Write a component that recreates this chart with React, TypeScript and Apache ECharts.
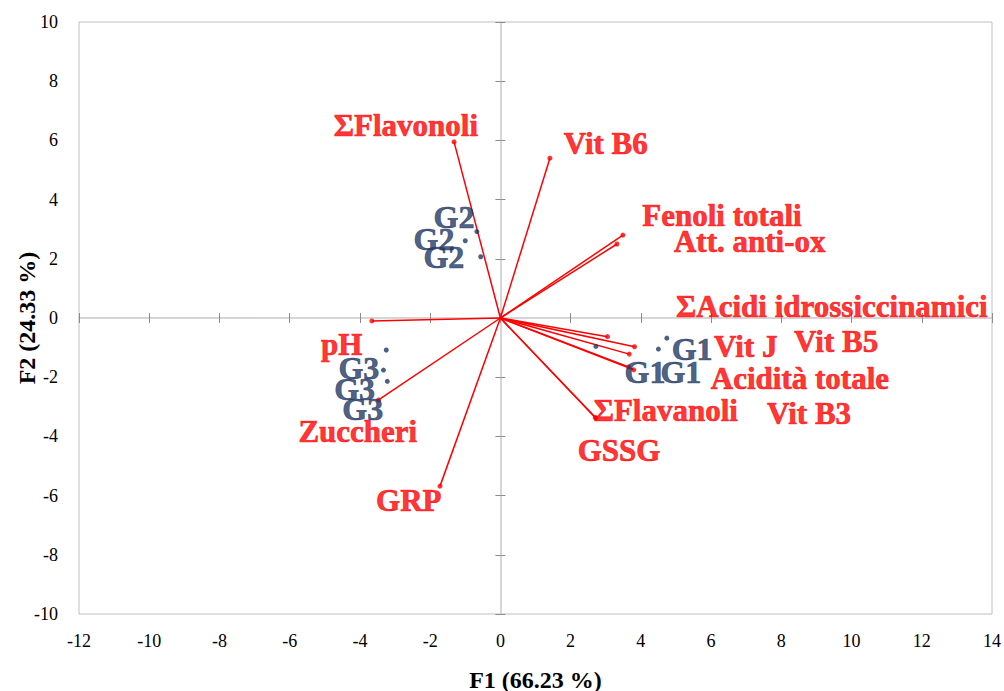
import React, { useEffect, useRef } from "react";
import * as echarts from "echarts";

// Variables (red vectors)
const varNames = [
  "ΣFlavonoli",
  "Vit B6",
  "Fenoli totali",
  "Att. anti-ox",
  "ΣAcidi idrossiccinamici",
  "Vit B5",
  "Vit J",
  "Acidità totale",
  "Vit B3",
  "ΣFlavanoli",
  "GSSG",
  "GRP",
  "Zuccheri",
  "pH",
];
const varX = [-1.32, 1.41, 3.49, 3.32, 3.05, 3.82, 3.67, 3.8, 3.65, 2.72, 2.7, -1.72, -3.47, -3.66];
const varY = [5.95, 5.4, 2.8, 2.5, -0.63, -0.97, -1.22, -1.75, -1.65, -3.38, -3.36, -5.68, -2.77, -0.1];
const varLabelX = [-2.69, 3.0, 6.31, 7.1, 9.44, 9.56, 6.99, 8.53, 8.79, 4.71, 3.38, -2.61, -4.06, -4.52];
const varLabelY = [6.5, 5.9, 3.45, 2.6, 0.4, -0.81, -0.95, -2.06, -3.24, -3.14, -4.49, -6.18, -3.82, -0.88];

// Observations (navy points)
const obsNames = ["G1", "G1", "G1", "G2", "G2", "G2", "G3", "G3", "G3"];
const obsX = [4.74, 4.5, 2.72, -0.67, -1.0, -0.56, -3.25, -3.33, -3.22];
const obsY = [-0.68, -1.05, -0.96, 2.92, 2.61, 2.07, -1.08, -1.76, -2.14];
const obsLabelX = [5.46, 5.14, 4.12, -1.32, -1.89, -1.61, -4.03, -4.15, -3.92];
const obsLabelY = [-1.05, -1.82, -1.82, 3.41, 2.67, 2.06, -1.69, -2.4, -3.07];

const xMin = -12, xMax = 14, xStep = 2;
const yMin = -10, yMax = 10, yStep = 2;

const RED = "#ff0000";
const NAVY = "#1f3864";
const SERIF = "Liberation Serif";

export default function App() {
  const ref = useRef<HTMLDivElement>(null);
  useEffect(() => {
    if (!ref.current) return;
    const chart = echarts.init(ref.current, undefined, { renderer: "svg" });

    const vectorSeries = varNames.map((n, i) => ({
      type: "line",
      name: n,
      xAxisIndex: 0,
      yAxisIndex: 0,
      data: [
        [0, 0],
        [varX[i], varY[i]],
      ],
      symbol: "none",
      silent: true,
      lineStyle: { color: RED, width: 1.5 },
      z: 3,
    }));

    const baseAxisX = { type: "value", min: xMin, max: xMax, interval: xStep };
    const baseAxisY = { type: "value", min: yMin, max: yMax, interval: yStep };
    const zeroLine = { lineStyle: { color: "#c8c8c8", width: 1.5 } };
    const tickStyle = { lineStyle: { color: "#8c8c8c", width: 1 } };

    const option = {
      animation: false,
      backgroundColor: "#ffffff",
      textStyle: { fontFamily: SERIF },
      grid: {
        left: 79,
        right: 12,
        top: 22,
        bottom: 77,
        show: true,
        borderColor: "#bfbfbf",
        borderWidth: 1,
        containLabel: false,
        outerBoundsMode: "none",
      },
      xAxis: [
        {
          ...baseAxisX,
          position: "bottom",
          axisLine: { show: false, onZero: false },
          axisTick: { show: false },
          splitLine: { show: false },
          axisLabel: { fontFamily: SERIF, fontSize: 18, color: "#000", margin: 18 },
          name: "F1 (66.23 %)",
          nameLocation: "middle",
          nameGap: 54,
          nameMoveOverlap: false,
          nameTextStyle: { fontFamily: SERIF, fontSize: 24, fontWeight: "bold", color: "#000" },
        },
        {
          ...baseAxisX,
          axisLine: { show: true, onZero: true, onZeroAxisIndex: 0, ...zeroLine },
          axisTick: { show: true, inside: true, length: 5, ...tickStyle },
          axisLabel: { show: false },
          splitLine: { show: false },
        },
        {
          ...baseAxisX,
          axisLine: { show: false, onZero: true, onZeroAxisIndex: 0 },
          axisTick: { show: true, inside: false, length: 5, ...tickStyle },
          axisLabel: { show: false },
          splitLine: { show: false },
        },
      ],
      yAxis: [
        {
          ...baseAxisY,
          position: "left",
          axisLine: { show: false, onZero: false },
          axisTick: { show: false },
          splitLine: { show: false },
          axisLabel: { fontFamily: SERIF, fontSize: 18, color: "#000", margin: 21 },
          name: "F2 (24.33 %)",
          nameLocation: "middle",
          nameGap: 40,
          nameRotate: 90,
          nameMoveOverlap: false,
          nameTextStyle: { fontFamily: SERIF, fontSize: 24, fontWeight: "bold", color: "#000" },
        },
        {
          ...baseAxisY,
          axisLine: { show: true, onZero: true, onZeroAxisIndex: 0, ...zeroLine },
          axisTick: { show: true, inside: true, length: 5, ...tickStyle },
          axisLabel: { show: false },
          splitLine: { show: false },
        },
        {
          ...baseAxisY,
          axisLine: { show: false, onZero: true, onZeroAxisIndex: 0 },
          axisTick: { show: true, inside: false, length: 5, ...tickStyle },
          axisLabel: { show: false },
          splitLine: { show: false },
        },
      ],
      series: [
        ...vectorSeries,
        {
          type: "scatter",
          name: "var-ends",
          xAxisIndex: 0,
          yAxisIndex: 0,
          symbolSize: 5,
          itemStyle: { color: RED },
          data: varX.map((x, i) => [x, varY[i]]),
          silent: true,
          z: 4,
        },
        {
          type: "scatter",
          name: "obs",
          xAxisIndex: 0,
          yAxisIndex: 0,
          symbolSize: 5,
          itemStyle: { color: NAVY },
          data: obsX.map((x, i) => [x, obsY[i]]),
          silent: true,
          z: 4,
        },
        {
          type: "scatter",
          name: "var-labels",
          xAxisIndex: 0,
          yAxisIndex: 0,
          symbolSize: 1,
          itemStyle: { color: "transparent" },
          data: varNames.map((n, i) => ({ name: n, value: [varLabelX[i], varLabelY[i]] })),
          label: {
            show: true,
            position: "inside",
            formatter: "{b}",
            color: RED,
            fontFamily: SERIF,
            fontWeight: "bold",
            fontSize: 31,
            textBorderColor: RED,
            textBorderWidth: 0.7,
          },
          labelLayout: { hideOverlap: false },
          silent: true,
          z: 5,
        },
        {
          type: "scatter",
          name: "obs-labels",
          xAxisIndex: 0,
          yAxisIndex: 0,
          symbolSize: 1,
          itemStyle: { color: "transparent" },
          data: obsNames.map((n, i) => ({ name: n, value: [obsLabelX[i], obsLabelY[i]] })),
          label: {
            show: true,
            position: "inside",
            formatter: "{b}",
            color: NAVY,
            fontFamily: SERIF,
            fontWeight: "bold",
            fontSize: 32,
            textBorderColor: NAVY,
            textBorderWidth: 0.7,
          },
          silent: true,
          z: 5,
        },
      ],
    };
    chart.setOption(option as any);
    return () => chart.dispose();
  }, []);
  return <div ref={ref} style={{ width: 1004, height: 691, position: "absolute", left: 0, top: 0 }} />;
}
